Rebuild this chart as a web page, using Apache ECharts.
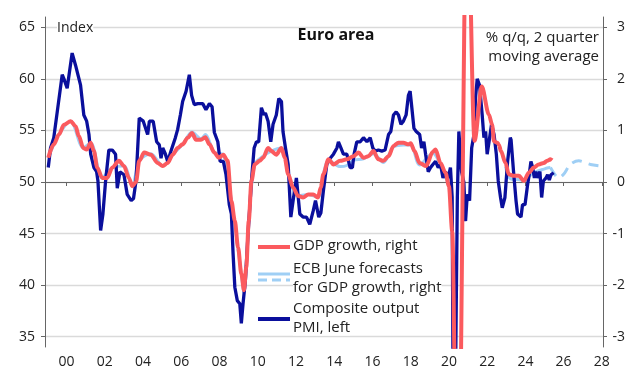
<!DOCTYPE html>
<html>
<head>
<meta charset="utf-8">
<script src="https://cdn.jsdelivr.net/npm/echarts@6/dist/echarts.min.js"></script>
<style>
html,body{margin:0;padding:0;background:#fff;}
#chart{width:640px;height:378px;}
</style>
</head>
<body>
<div id="chart"></div>
<script>
// ---- Data ----
const xTickYears = [2000,2002,2004,2006,2008,2010,2012,2014,2016,2018,2020,2022,2024,2026,2028];
const leftTicks = [35,40,45,50,55,60,65];
const rightTicks = [-3,-2,-1,0,1,2,3];

// Composite output PMI (left axis): dates (fractional years) and values
const pmiDates = [1999.04,1999.16,1999.33,1999.51,1999.77,1999.86,2000.03,2000.12,2000.29,2000.47,2000.73,2000.90,2001.05,2001.17,2001.26,2001.43,2001.57,2001.64,2001.78,2001.90,2002.04,2002.21,2002.39,2002.56,2002.65,2002.79,2003.00,2003.17,2003.38,2003.50,2003.63,2003.80,2004.01,2004.24,2004.33,2004.53,2004.71,2004.85,2004.94,2005.03,2005.15,2005.29,2005.46,2005.69,2005.81,2005.95,2006.07,2006.25,2006.42,2006.54,2006.68,2006.86,2007.12,2007.29,2007.47,2007.61,2007.73,2007.91,2008.03,2008.20,2008.34,2008.51,2008.62,2008.71,2008.80,2008.93,2009.06,2009.14,2009.23,2009.35,2009.49,2009.67,2009.81,2009.93,2010.05,2010.19,2010.33,2010.40,2010.54,2010.68,2010.80,2010.97,2011.10,2011.24,2011.32,2011.45,2011.59,2011.73,2011.85,2012.02,2012.20,2012.37,2012.55,2012.72,2012.90,2013.02,2013.19,2013.30,2013.43,2013.61,2013.79,2013.96,2014.14,2014.22,2014.35,2014.48,2014.66,2014.83,2014.95,2015.04,2015.18,2015.36,2015.53,2015.71,2015.88,2016.02,2016.14,2016.31,2016.49,2016.66,2016.84,2016.96,2017.10,2017.24,2017.36,2017.49,2017.62,2017.76,2017.88,2017.97,2018.06,2018.17,2018.29,2018.47,2018.57,2018.69,2018.78,2018.92,2019.04,2019.16,2019.30,2019.44,2019.56,2019.69,2019.82,2019.96,2020.08,2020.17,2020.26,2020.35,2020.44,2020.52,2020.66,2020.78,2020.87,2020.96,2021.08,2021.19,2021.31,2021.39,2021.48,2021.60,2021.74,2021.83,2021.92,2022.00,2022.13,2022.23,2022.36,2022.48,2022.58,2022.70,2022.79,2022.93,2023.07,2023.21,2023.25,2023.38,2023.51,2023.59,2023.77,2023.85,2023.98,2024.12,2024.20,2024.29,2024.38,2024.47,2024.55,2024.64,2024.76,2024.85,2024.94,2025.08,2025.16,2025.25,2025.34,2025.48];
const pmiValues = [51.4,53.3,54.3,56.8,60.4,60.0,59.1,59.1,62.5,61.3,59.4,56.5,55.9,54.6,52.7,51.4,51.0,50.1,45.3,46.9,50.1,53.1,53.1,52.7,49.4,51.0,50.7,48.8,48.2,48.4,50.1,56.2,55.9,54.6,55.9,55.9,53.9,53.6,52.3,53.3,52.8,52.0,53.0,54.3,55.1,56.5,57.8,58.8,60.4,58.4,57.5,57.6,57.6,57.0,57.6,57.3,54.8,53.9,52.0,52.0,50.7,47.8,46.9,43.0,39.8,38.5,38.2,36.3,38.2,40.4,44.9,50.1,53.3,53.9,53.9,57.2,56.5,56.7,55.9,53.9,55.6,56.5,58.1,57.8,54.9,53.3,51.7,46.6,48.2,50.4,46.9,46.6,46.6,45.9,47.2,48.2,46.6,47.0,49.1,51.7,52.3,52.7,53.3,53.9,53.3,52.7,52.7,51.4,51.4,52.7,53.9,53.9,54.3,53.9,54.3,53.3,53.0,53.1,53.0,53.1,54.6,54.9,56.5,56.8,56.5,55.6,55.9,56.5,58.4,58.8,57.2,55.2,54.9,54.6,53.3,53.9,52.7,51.0,51.4,51.7,52.0,51.4,51.7,50.4,51.0,50.4,51.4,48.5,13.6,31.9,48.5,54.9,51.0,50.0,46.2,48.8,48.2,53.3,54.6,58.1,60.0,59.4,56.5,54.3,54.9,52.7,54.3,55.6,54.6,52.7,50.1,48.5,47.5,48.5,52.0,54.3,54.1,51.0,48.2,46.9,46.6,47.8,47.8,49.8,50.7,52.0,51.4,50.4,51.0,50.4,51.0,48.5,50.1,50.4,50.7,50.2,50.7,50.9];

// GDP growth, % q/q 2-quarter moving average (right axis)
const gdpDates = [1999.04,1999.33,1999.60,1999.86,2000.21,2000.47,2000.64,2000.87,2001.05,2001.26,2001.43,2001.60,2001.86,2002.13,2002.39,2002.74,2003.00,2003.26,2003.43,2003.63,2003.80,2004.06,2004.41,2004.76,2005.03,2005.29,2005.55,2005.81,2006.07,2006.34,2006.56,2006.77,2007.03,2007.26,2007.47,2007.73,2007.96,2008.20,2008.42,2008.62,2008.80,2008.97,2009.14,2009.28,2009.40,2009.53,2009.67,2009.84,2010.10,2010.28,2010.54,2010.71,2010.97,2011.24,2011.41,2011.59,2011.85,2012.11,2012.37,2012.64,2012.90,2013.15,2013.30,2013.43,2013.70,2013.96,2014.31,2014.66,2015.01,2015.27,2015.53,2015.79,2016.05,2016.31,2016.57,2016.84,2017.10,2017.36,2017.62,2017.88,2018.00,2018.20,2018.46,2018.81,2019.15,2019.30,2019.56,2019.82,2020.00,2020.17,2020.45,2020.95,2021.34,2021.72,2022.09,2022.26,2022.36,2022.53,2022.62,2022.72,2022.96,2023.13,2023.40,2023.66,2023.92,2024.18,2024.44,2024.70,2024.96,2025.14,2025.31,2025.40];
const gdpValues = [0.47,0.73,0.92,1.11,1.18,1.08,0.89,0.66,0.63,0.76,0.60,0.28,0.08,0.08,0.28,0.41,0.31,0.08,-0.08,0.00,0.41,0.57,0.53,0.37,0.31,0.37,0.53,0.66,0.73,0.86,0.95,0.82,0.82,0.87,0.73,0.57,0.47,0.53,0.41,-0.37,-0.75,-1.27,-1.78,-2.10,-1.65,-0.75,0.02,0.34,0.41,0.47,0.66,0.60,0.53,0.66,0.47,0.15,-0.11,-0.27,-0.30,-0.24,-0.24,-0.30,-0.10,0.15,0.44,0.34,0.41,0.44,0.50,0.57,0.47,0.50,0.60,0.44,0.41,0.50,0.70,0.76,0.76,0.73,0.75,0.60,0.37,0.31,0.58,0.63,0.37,0.18,-0.08,-0.95,-7.6,6.0,0.80,1.85,1.31,1.11,0.79,0.76,0.72,0.60,0.37,0.15,0.12,0.12,0.02,0.18,0.28,0.34,0.37,0.41,0.44,0.42];

// ECB June forecasts for GDP growth (right axis): historical vintage (solid, null = gap) and projection (dashed)
const ecbHistDates = [1999.04,1999.60,2000.21,2000.87,2001.26,2001.86,2002.39,2003.00,2003.43,2003.80,2004.41,2005.03,2005.55,2006.07,2006.56,2007.03,2007.26,2007.73,2008.20,2008.62,2009.14,2009.28,2009.53,2009.84,2010.28,2010.71,2011.24,2011.59,2012.11,2012.64,2013.15,2013.43,2013.70,2014.31,2014.66,2015.01,2015.53,2016.05,2016.57,2017.10,2017.62,2018.00,2018.46,2019.15,2019.56,2020.00,2021.00,2022.96,2023.13,2023.40,2023.66,2023.92,2024.18,2024.44,2024.70,2024.96,2025.14,2025.31];
const ecbHistValues = [0.47,0.92,1.18,0.66,0.76,0.08,0.28,0.31,-0.08,0.41,0.55,0.31,0.53,0.73,0.97,0.84,0.92,0.57,0.53,-0.37,-1.78,-2.15,-0.75,0.34,0.50,0.60,0.66,0.15,-0.27,-0.24,-0.30,0.15,0.42,0.30,0.32,0.42,0.45,0.55,0.38,0.68,0.72,0.72,0.33,0.56,0.34,-0.08,null,0.30,0.10,0.05,0.05,0.02,0.10,0.18,0.22,0.25,0.27,0.28];
const ecbFcDates = [2025.31,2025.74,2026.00,2026.35,2026.79,2027.40,2027.93];
const ecbFcValues = [0.28,0.08,0.15,0.34,0.41,0.34,0.31];

// ---- Chart ----
const zip = (a, b) => a.map((d, i) => [d, b[i] === null ? '-' : b[i]]);
const RED = '#fb5a5e', NAVY = '#0a0f9c', LIGHT = '#9fcff5';
const FONT = '"Open Sans", "Noto Sans", sans-serif';
const TXT = '#222';
const legendText = (x, y, t) => ({type: 'text', x: x, y: y, z: 100,
  style: {text: t, font: '15px ' + FONT, fill: TXT, verticalAlign: 'middle', backgroundColor: '#fff'}});

const chart = echarts.init(document.getElementById('chart'), null, {renderer: 'canvas'});
chart.setOption({
  animation: false,
  backgroundColor: '#fff',
  textStyle: {fontFamily: FONT},
  grid: {left: 45, right: 37, top: 17, bottom: 31, containLabel: false},
  xAxis: {
    type: 'value', min: 1998.87, max: 2028.06,
    axisLine: {show: true, lineStyle: {color: '#666', width: 1}},
    axisTick: {show: true, length: 4, customValues: xTickYears, lineStyle: {color: '#666'}},
    axisLabel: {customValues: xTickYears, margin: 8, fontSize: 14, color: TXT, fontFamily: FONT,
      formatter: v => String(Math.round(v) % 100).padStart(2, '0')},
    splitLine: {show: false}
  },
  yAxis: [
    {
      type: 'value', min: 34, max: 66, position: 'left',
      axisLine: {show: true, lineStyle: {color: '#666', width: 1}},
      axisTick: {show: true, length: 4, customValues: leftTicks, lineStyle: {color: '#666'}},
      axisLabel: {customValues: leftTicks, margin: 10, fontSize: 14, color: TXT, fontFamily: FONT},
      splitLine: {show: true, lineStyle: {color: '#dadada', width: 1.3}}
    },
    {
      type: 'value', min: -3.2, max: 3.2, position: 'right',
      axisLine: {show: true, lineStyle: {color: '#666', width: 1}},
      axisTick: {show: true, length: 4, customValues: rightTicks, lineStyle: {color: '#666'}},
      axisLabel: {customValues: rightTicks, margin: 22, align: 'right', fontSize: 14, color: TXT, fontFamily: FONT},
      splitLine: {show: false}
    }
  ],
  series: [
    {name: 'ECB June forecasts for GDP growth, right', type: 'line', yAxisIndex: 1, z: 2,
      data: zip(ecbHistDates, ecbHistValues), showSymbol: false, smooth: 0.3, connectNulls: false,
      lineStyle: {color: LIGHT, width: 3}},
    {name: 'ECB projection', type: 'line', yAxisIndex: 1, z: 2,
      data: zip(ecbFcDates, ecbFcValues), showSymbol: false, smooth: 0.3,
      lineStyle: {color: LIGHT, width: 3, type: [10, 7]}},
    {name: 'Composite output PMI, left', type: 'line', yAxisIndex: 0, z: 3,
      data: zip(pmiDates, pmiValues), showSymbol: false,
      lineStyle: {color: NAVY, width: 3.3}},
    {name: 'GDP growth, right', type: 'line', yAxisIndex: 1, z: 4,
      data: zip(gdpDates, gdpValues), showSymbol: false, smooth: 0.3, smoothMonotone: 'x',
      lineStyle: {color: RED, width: 4}}
  ],
  graphic: [
    {type: 'text', left: 57, top: 21, z: 100, style: {text: 'Index', font: '14px ' + FONT, fill: TXT, backgroundColor: '#fff'}},
    {type: 'text', x: 336, y: 35, z: 100, style: {text: 'Euro area', font: 'bold 16px ' + FONT, fill: '#111', align: 'center', verticalAlign: 'middle'}},
    {type: 'text', x: 599, y: 38, z: 100, style: {text: '% q/q, 2 quarter', font: '15px ' + FONT, fill: TXT, align: 'right', verticalAlign: 'middle'}},
    {type: 'text', x: 599, y: 57, z: 100, style: {text: 'moving average', font: '15px ' + FONT, fill: TXT, align: 'right', verticalAlign: 'middle'}},
    // legend
    {type: 'line', z: 100, shape: {x1: 258, y1: 247, x2: 290, y2: 247}, style: {stroke: RED, lineWidth: 4}},
    legendText(293, 246, 'GDP growth, right'),
    {type: 'line', z: 100, shape: {x1: 258, y1: 274, x2: 290, y2: 274}, style: {stroke: LIGHT, lineWidth: 3}},
    {type: 'line', z: 100, shape: {x1: 258, y1: 280, x2: 290, y2: 280}, style: {stroke: LIGHT, lineWidth: 3, lineDash: [9, 5]}},
    legendText(293, 269, 'ECB June forecasts'),
    legendText(293, 288, 'for GDP growth, right'),
    {type: 'line', z: 100, shape: {x1: 258, y1: 319, x2: 290, y2: 319}, style: {stroke: NAVY, lineWidth: 4}},
    legendText(293, 309, 'Composite output'),
    legendText(293, 328, 'PMI, left')
  ]
});
</script>
</body>
</html>
